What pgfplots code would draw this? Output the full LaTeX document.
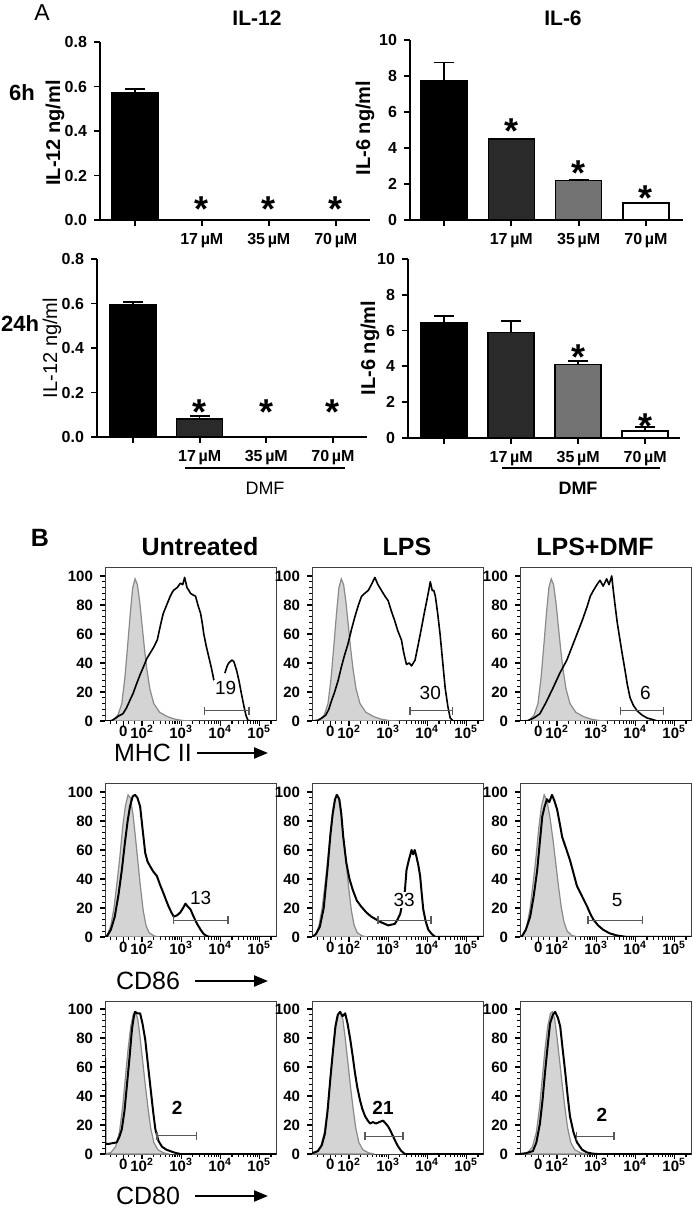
\documentclass[border=0pt]{standalone}
\usepackage{fontspec}
\setmainfont{Liberation Sans}
\usepackage{pgfplots}
\pgfplotsset{compat=1.18}
\usetikzlibrary{arrows.meta}
\definecolor{bardark}{HTML}{2A2A2A}
\definecolor{barmid}{HTML}{727272}
\definecolor{isofill}{HTML}{D4D4D4}
\definecolor{isoline}{HTML}{8A8A8A}
\tikzset{glab/.style={fill=white, inner sep=0.6pt, font=\fontsize{9.5}{10}\selectfont}}
\pgfplotsset{
 barax/.style={scale only axis, axis x line=bottom, axis y line=left,
   axis line style={-, line width=0.9pt}, tick style={line width=0.9pt, black},
   tick align=outside, major tick length=3pt, xtick={0,1,2,3},
   xticklabels={{},17\,µM,35\,µM,70\,µM}, ymin=0, enlargelimits=false,
   ticklabel style={font=\bfseries\fontsize{8}{9}\selectfont},
   /pgf/number format/assume math mode=true, anchor=south west, clip=false},
 il12/.style={ymax=0.8, ytick={0,0.2,0.4,0.6,0.8},
   yticklabel style={/pgf/number format/.cd, fixed, fixed zerofill, precision=1}},
 il6/.style={ymax=10, ytick={0,2,4,6,8,10}},
 bar/.style={ybar, bar width=23pt, bar shift=0pt, draw=black, line width=0.8pt,
   error bars/y dir=plus, error bars/y explicit,
   error bars/error bar style={line width=0.8pt, black},
   error bars/error mark options={rotate=90, line width=0.8pt, mark size=5pt, black}},
 hist/.style={scale only axis, width=85.5pt, height=76.5pt, xmin=1.05, xmax=5.43,
   ymin=0, ymax=105.5, axis line style={line width=0.5pt, black!75},
   xtick={1.52,2,3,4,5},
   xticklabels={0,10\textsuperscript{2},10\textsuperscript{3},10\textsuperscript{4},10\textsuperscript{5}},
   minor xtick={1.2,1.35,1.65,1.8,2.301,2.477,2.602,2.699,2.778,2.845,2.903,2.954,3.301,3.477,3.602,3.699,3.778,3.845,3.903,3.954,4.301,4.477,4.602,4.699,4.778,4.845,4.903,4.954,5.301},
   ytick={0,20,40,60,80,100}, minor y tick num=4,
   xtick pos=bottom, ytick pos=left, tick align=outside,
   major tick length=2.5pt, minor tick length=1.3pt,
   tick style={black, line width=0.6pt},
   ticklabel style={font=\bfseries\fontsize{7.5}{8}\selectfont},
   xticklabel style={inner sep=0.6pt, yshift=1pt},
   /pgf/number format/assume math mode=true, anchor=south west},
 iso/.style={draw=isoline, fill=isofill, line width=0.6pt},
 pos/.style={black, line width=1pt, line join=round},
 gate/.style={black!65, line width=0.6pt, mark=|, mark size=2pt, mark options={solid, line width=0.6pt}},
}
\newcommand{\st}{\bfseries\fontsize{18}{18}\selectfont *}
\begin{document}
\begin{tikzpicture}
\path[use as bounding box] (0,0) rectangle (346.5pt,603.5pt);

% ---------------- Panel A ----------------
\begin{axis}[barax, il12, at={(50pt,493.5pt)}, width=135pt, height=89pt, xmin=-0.52, xmax=3.51]
\addplot[bar, fill=black] coordinates {(0,0.57) +- (0,0.02)};
\node[yshift=-2.5pt] at (axis cs:1,0.072) {\st};
\node[yshift=-2.5pt] at (axis cs:2,0.072) {\st};
\node[yshift=-2.5pt] at (axis cs:3,0.072) {\st};
\end{axis}

\begin{axis}[barax, il6, at={(205pt,493.5pt)}, width=136.5pt, height=90pt, xmin=-0.505, xmax=3.55]
\addplot[bar, fill=black] coordinates {(0,7.75) +- (0,1.0)};
\addplot[bar, fill=bardark] coordinates {(1,4.5) +- (0,0.02)};
\addplot[bar, fill=barmid] coordinates {(2,2.2) +- (0,0.06)};
\addplot[bar, fill=white] coordinates {(3,0.95) +- (0,0.02)};
\node[yshift=-2.5pt] at (axis cs:1,5.22) {\st};
\node[yshift=-2.5pt] at (axis cs:2,2.89) {\st};
\node[yshift=-2.5pt] at (axis cs:3,1.5) {\st};
\end{axis}

\begin{axis}[barax, il12, at={(48.5pt,385pt)}, width=135pt, height=89pt, xmin=-0.54, xmax=3.51]
\addplot[bar, fill=black] coordinates {(0,0.595) +- (0,0.012)};
\addplot[bar, fill=bardark] coordinates {(1,0.082) +- (0,0.013)};
\node[yshift=-2.5pt] at (axis cs:1,0.135) {\st};
\node[yshift=-2.5pt] at (axis cs:2,0.135) {\st};
\node[yshift=-2.5pt] at (axis cs:3,0.135) {\st};
\end{axis}

\begin{axis}[barax, il6, at={(204pt,384.5pt)}, width=136pt, height=89.5pt, xmin=-0.54, xmax=3.52]
\addplot[bar, fill=black] coordinates {(0,6.45) +- (0,0.35)};
\addplot[bar, fill=bardark] coordinates {(1,5.9) +- (0,0.65)};
\addplot[bar, fill=barmid] coordinates {(2,4.1) +- (0,0.2)};
\addplot[bar, fill=white] coordinates {(3,0.4) +- (0,0.2)};
\node[yshift=-2.5pt] at (axis cs:2,4.8) {\st};
\node[yshift=-2.5pt] at (axis cs:3,0.95) {\st};
\end{axis}

% ---------------- Panel B, row 1 (MHC II) ----------------
\begin{axis}[hist, at={(52.5pt,243pt)}]
\addplot[iso] coordinates {(1.05,0)(1.25,0.5)(1.38,4)(1.48,12)(1.56,30)(1.63,52)(1.70,75)(1.76,92)(1.82,98)(1.88,94)(1.94,82)(2.00,66)(2.06,50)(2.12,36)(2.20,22)(2.30,12)(2.45,6)(2.65,3)(2.85,1.2)(3.05,0.3)(3.3,0)} \closedcycle;
\addplot[pos, line width=0.8pt] coordinates {(1.05,0)(1.2,0)(1.3,1.5)(1.4,3.5)(1.51,5)(1.6,9)(1.7,15)(1.77,19)(1.85,25)(1.95,32)(2.03,37)(2.12,43)(2.21,47)(2.30,51)(2.39,56)(2.47,66)(2.54,74)(2.63,80)(2.72,86)(2.80,90)(2.90,92)(2.98,95)(3.04,94)(3.09,99)(3.15,92)(3.20,90)(3.24,88)(3.30,87)(3.37,86)(3.43,80)(3.50,74)(3.55,66)(3.58,60)(3.64,52)(3.71,44)(3.78,36)(3.84,28)};
\addplot[pos, line width=0.8pt] coordinates {(4.12,33)(4.18,38)(4.22,40)(4.30,42)(4.35,41)(4.42,35)(4.48,28)(4.55,18)(4.61,10)(4.66,4)(4.71,0.5)(4.8,0)(5.43,0)};
\addplot[gate] coordinates {(3.60,7)(4.74,7)};
\node[glab] at (axis cs:4.14,22.8) {19};
\end{axis}

\begin{axis}[hist, at={(156pt,243pt)}]
\addplot[iso] coordinates {(1.05,0)(1.23,0.5)(1.36,4)(1.46,12)(1.54,30)(1.61,52)(1.68,75)(1.74,92)(1.80,98)(1.86,94)(1.92,82)(1.98,66)(2.04,50)(2.10,36)(2.18,22)(2.28,12)(2.43,6)(2.63,3)(2.83,1.2)(3.03,0.3)(3.28,0)} \closedcycle;
\addplot[pos, line width=0.8pt] coordinates {(1.05,0)(1.2,0.5)(1.3,2)(1.4,4)(1.48,8)(1.55,14)(1.63,20)(1.72,28)(1.8,37)(1.88,45)(1.97,53)(2.06,63)(2.15,72)(2.24,80)(2.32,86)(2.40,88)(2.49,90)(2.57,94)(2.66,99)(2.74,94)(2.83,90)(2.92,86)(3.00,83)(3.08,76)(3.17,69)(3.25,62)(3.34,56)(3.40,47)(3.47,39)(3.54,40)(3.60,38)(3.69,42)(3.78,54)(3.86,65)(3.93,75)(3.99,83)(4.04,90)(4.08,96)(4.13,90)(4.17,90)(4.21,86)(4.27,74)(4.33,60)(4.40,40)(4.46,23)(4.53,10)(4.59,2)(4.67,0)(5.43,0)};
\addplot[gate] coordinates {(3.56,7)(4.64,7)};
\node[glab] at (axis cs:4.08,19.3) {30};
\end{axis}

\begin{axis}[hist, at={(260pt,243pt)}]
\addplot[iso] coordinates {(1.05,0)(1.28,0.5)(1.41,4)(1.51,12)(1.59,30)(1.66,52)(1.73,75)(1.79,92)(1.85,98)(1.91,94)(1.97,82)(2.03,66)(2.09,50)(2.15,36)(2.23,22)(2.33,12)(2.48,6)(2.68,3)(2.88,1.2)(3.08,0.3)(3.33,0)} \closedcycle;
\addplot[pos, line width=0.8pt] coordinates {(1.05,0)(1.23,0)(1.4,2)(1.56,5)(1.72,13)(1.90,23)(2.07,33)(2.25,42)(2.38,51)(2.51,60)(2.64,69)(2.77,79)(2.85,86)(2.93,90)(3.02,94)(3.10,97)(3.18,93)(3.27,98)(3.33,94)(3.40,100)(3.44,90)(3.48,81)(3.54,68)(3.61,56)(3.67,46)(3.74,35)(3.80,25)(3.87,16)(3.95,11)(4.05,7)(4.18,4)(4.31,2)(4.45,1)(4.56,0)(5.43,0)};
\addplot[gate] coordinates {(3.62,7)(4.72,7)};
\node[glab] at (axis cs:4.26,19.3) {6};
\end{axis}

% ---------------- Panel B, row 2 (CD86) ----------------
\begin{axis}[hist, at={(52.5pt,135pt)}]
\addplot[iso] coordinates {(1.05,0)(1.12,2)(1.2,8)(1.28,20)(1.36,38)(1.43,55)(1.50,75)(1.57,90)(1.64,98)(1.70,96)(1.77,84)(1.84,66)(1.90,50)(1.96,34)(2.03,18)(2.10,8)(2.18,3)(2.3,0.8)(2.45,0)} \closedcycle;
\addplot[pos] coordinates {(1.05,0)(1.10,0.5)(1.20,5)(1.30,14)(1.40,30)(1.48,46)(1.56,65)(1.63,80)(1.69,90)(1.76,97)(1.82,98)(1.88,96)(1.95,90)(2.01,75)(2.08,58)(2.14,52)(2.20,49)(2.29,45)(2.38,42)(2.46,36)(2.55,30)(2.62,25)(2.68,21)(2.75,17)(2.81,14)(2.90,15)(2.98,17)(3.05,20)(3.11,23)(3.17,21)(3.24,19)(3.32,14)(3.41,9)(3.50,5)(3.58,2)(3.67,0.5)(3.76,0)(5.43,0)};
\addplot[gate] coordinates {(2.80,11.6)(4.20,11.6)};
\node[glab] at (axis cs:3.5,26.9) {13};
\end{axis}

\begin{axis}[hist, at={(156pt,135pt)}]
\addplot[iso] coordinates {(1.05,0)(1.15,2)(1.23,8)(1.31,20)(1.39,38)(1.46,55)(1.53,75)(1.60,90)(1.67,98)(1.73,96)(1.80,84)(1.87,66)(1.93,50)(1.99,34)(2.06,18)(2.13,8)(2.21,3)(2.33,0.8)(2.48,0)} \closedcycle;
\addplot[pos] coordinates {(1.05,0)(1.15,2)(1.25,7)(1.35,20)(1.45,48)(1.52,70)(1.58,85)(1.64,95)(1.69,98)(1.75,95)(1.80,85)(1.85,69)(1.93,51)(2.01,40)(2.10,32)(2.20,25)(2.31,21)(2.44,17)(2.57,14)(2.70,12)(2.83,10)(2.92,9)(3.00,8)(3.08,8.5)(3.17,9)(3.24,12)(3.31,16)(3.37,24)(3.43,32)(3.47,46)(3.52,52)(3.56,56)(3.60,60)(3.64,57)(3.68,60)(3.72,56)(3.77,50)(3.82,42)(3.86,30)(3.90,19)(3.96,11)(4.03,5)(4.12,2)(4.21,0)(5.43,0)};
\addplot[gate] coordinates {(2.74,11.6)(4.10,11.6)};
\node[glab] at (axis cs:3.41,25.5) {33};
\end{axis}

\begin{axis}[hist, at={(260pt,135pt)}]
\addplot[iso] coordinates {(1.05,0)(1.15,2)(1.23,8)(1.31,20)(1.39,38)(1.46,55)(1.53,75)(1.60,90)(1.67,98)(1.74,94)(1.82,82)(1.90,66)(1.97,50)(2.04,34)(2.11,20)(2.18,10)(2.26,4)(2.38,1)(2.55,0)} \closedcycle;
\addplot[pos] coordinates {(1.05,0)(1.10,0.5)(1.2,5)(1.31,14)(1.40,28)(1.49,46)(1.56,66)(1.62,83)(1.68,90)(1.74,95)(1.80,93)(1.87,98)(1.93,94)(2.00,88)(2.07,78)(2.13,69)(2.23,61)(2.33,53)(2.42,44)(2.51,35)(2.64,28)(2.77,21)(2.85,16)(2.93,12)(3.05,8)(3.18,5)(3.35,2.5)(3.54,1)(3.79,0)(5.43,0)};
\addplot[gate] coordinates {(2.79,11.6)(4.18,11.6)};
\node[glab] at (axis cs:3.54,25.5) {5};
\end{axis}

% ---------------- Panel B, row 3 (CD80) ----------------
\begin{axis}[hist, at={(52.5pt,26.5pt)}]
\addplot[iso] coordinates {(1.05,0)(1.2,1)(1.32,5)(1.42,15)(1.50,32)(1.57,52)(1.64,72)(1.71,88)(1.78,97)(1.83,98)(1.89,93)(1.95,80)(2.02,63)(2.08,48)(2.15,32)(2.22,18)(2.30,8)(2.40,3)(2.55,0.8)(2.7,0)} \closedcycle;
\addplot[pos] coordinates {(1.055,0)(1.055,66)(1.06,7)(1.15,7)(1.25,7.5)(1.35,8)(1.42,12)(1.48,17)(1.55,30)(1.61,47)(1.68,67)(1.74,86)(1.79,95)(1.82,98)(1.88,97)(1.95,97)(2.01,90)(2.08,79)(2.14,64)(2.21,47)(2.28,30)(2.34,17)(2.42,9)(2.51,5)(2.62,3)(2.72,2)(2.85,0.8)(2.98,0)(5.43,0)};
\addplot[gate] coordinates {(2.38,12.6)(3.40,12.6)};
\node[glab, font=\bfseries\fontsize{9.5}{10}\selectfont] at (axis cs:2.9,31.7) {2};
\end{axis}

\begin{axis}[hist, at={(156pt,26.5pt)}]
\addplot[iso] coordinates {(1.05,0)(1.15,1)(1.27,5)(1.37,15)(1.45,32)(1.52,52)(1.59,72)(1.66,88)(1.73,97)(1.78,98)(1.84,93)(1.90,80)(1.97,63)(2.03,48)(2.10,32)(2.17,18)(2.25,8)(2.35,3)(2.50,0.8)(2.65,0)} \closedcycle;
\addplot[pos] coordinates {(1.05,0.5)(1.2,2)(1.3,6)(1.38,14)(1.45,30)(1.52,52)(1.59,72)(1.65,88)(1.71,96)(1.77,98)(1.83,95)(1.90,97)(1.96,90)(2.03,79)(2.09,68)(2.15,56)(2.21,46)(2.28,37)(2.34,31)(2.41,26)(2.48,23)(2.54,21)(2.61,22)(2.69,21)(2.77,22)(2.87,23)(2.94,21)(3.00,19)(3.06,16)(3.13,12)(3.20,8)(3.26,5)(3.34,2)(3.43,0)(5.43,0)};
\addplot[gate] coordinates {(2.41,12.2)(3.38,12.2)};
\node[glab, font=\bfseries\fontsize{9.5}{10}\selectfont] at (axis cs:2.87,31.7) {21};
\end{axis}

\begin{axis}[hist, at={(260pt,26.5pt)}]
\addplot[iso] coordinates {(1.05,0)(1.25,1)(1.37,5)(1.47,15)(1.55,32)(1.62,52)(1.69,72)(1.76,88)(1.83,97)(1.88,98)(1.94,93)(2.00,80)(2.07,63)(2.13,48)(2.20,32)(2.27,18)(2.35,8)(2.45,3)(2.60,0.8)(2.75,0)} \closedcycle;
\addplot[pos] coordinates {(1.05,0)(1.2,0.5)(1.38,2)(1.47,8)(1.56,21)(1.63,38)(1.69,56)(1.76,75)(1.82,90)(1.89,96)(1.95,98)(2.02,94)(2.08,88)(2.14,73)(2.21,56)(2.27,40)(2.33,26)(2.42,15)(2.51,8)(2.64,3)(2.77,1)(2.90,0.3)(3.03,0)(5.43,0)};
\addplot[gate] coordinates {(2.49,12.2)(3.46,12.2)};
\node[glab, font=\bfseries\fontsize{9.5}{10}\selectfont] at (axis cs:3.15,26.9) {2};
\end{axis}

% ---------------- Text in pixel coordinates ----------------
\begin{scope}[x=0.5pt, y=-0.5pt, shift={(0pt,603.5pt)}]
\node[font=\fontsize{11.5}{12}\selectfont] at (42,13) {A};
\node[font=\bfseries\fontsize{10.5}{12}\selectfont] at (257,18) {IL-12};
\node[font=\bfseries\fontsize{10.5}{12}\selectfont] at (563,18) {IL-6};
\node[font=\bfseries\fontsize{11}{12}\selectfont] at (22,93) {6h};
\node[font=\bfseries\fontsize{11}{12}\selectfont] at (20,324) {24h};
\node[font=\bfseries\fontsize{10}{12}\selectfont, rotate=90] at (55,133) {IL-12 ng/ml};
\node[font=\bfseries\fontsize{10}{12}\selectfont, rotate=90] at (365,128) {IL-6 ng/ml};
\node[font=\fontsize{10}{12}\selectfont, rotate=90] at (52,348) {IL-12 ng/ml};
\node[font=\bfseries\fontsize{10}{12}\selectfont, rotate=90] at (370,348) {IL-6 ng/ml};
\draw[line width=0.6pt] (185,468) -- (345,468);
\draw[line width=0.6pt] (502,468) -- (660,468);
\node[font=\fontsize{9}{10}\selectfont] at (265,488) {DMF};
\node[font=\bfseries\fontsize{9}{10}\selectfont] at (578,488) {DMF};

\node[font=\bfseries\fontsize{12.5}{13}\selectfont] at (40,538) {B};
\node[font=\bfseries\fontsize{12.5}{13}\selectfont] at (200,547) {Untreated};
\node[font=\bfseries\fontsize{12.5}{13}\selectfont] at (407,547) {LPS};
\node[font=\bfseries\fontsize{12.5}{13}\selectfont] at (595,547) {LPS+DMF};

\node[font=\fontsize{12.5}{13}\selectfont, inner sep=0pt] at (153,753) {MHC II};
\draw[line width=1.1pt, -{Triangle[length=7pt,width=5.5pt]}] (197,753) -- (268,753);
\node[font=\fontsize{12.5}{13}\selectfont] at (148,981) {CD86};
\draw[line width=1.1pt, -{Triangle[length=7pt,width=5.5pt]}] (195,981) -- (268,981);
\node[font=\fontsize{12.5}{13}\selectfont] at (148,1196) {CD80};
\draw[line width=1.1pt, -{Triangle[length=7pt,width=5.5pt]}] (195,1196) -- (268,1196);
\end{scope}
\end{tikzpicture}
\end{document}
